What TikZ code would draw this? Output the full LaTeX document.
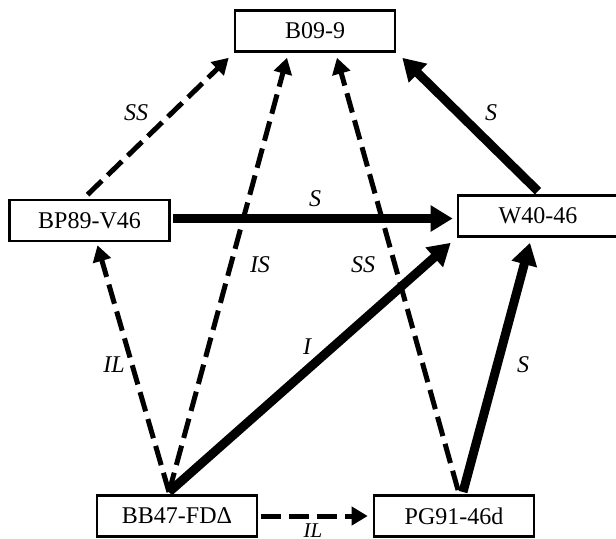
\documentclass[tikz,border=0pt]{standalone}
\usepackage{fontspec}
\setmainfont{Liberation Serif}
\usetikzlibrary{arrows.meta,calc}

\tikzset{
	strain/.style={draw, line width=1.3pt, minimum width=80pt, minimum height=20.5pt, inner sep=0pt, font=\fontsize{12}{14}\selectfont},
	strong/.style={line width=4.5pt, -{Triangle[length=11pt,width=12.5pt]}},
	weak/.style={line width=2.5pt, dash pattern=on 10pt off 4pt, -{Triangle[length=8pt,width=9pt]}},
	lbl/.style={font=\fontsize{12}{14}\selectfont\itshape, inner sep=0pt}
}

\begin{document}
\begin{tikzpicture}[x=0.5pt, y=-0.5pt]
		\useasboundingbox (0,0) rectangle (616,538);
		\clip (0,0) rectangle (616,538);
		\node[strain] (b09) at (315,31) {B09-9};
		\node[strain] (bp) at (89.5,220.5) {BP89-V46};
		\node[strain] (w40) at (538,216) {W40-46};
		\node[strain] (bb) at (177,516) {BB47-FDΔ};
		\node[strain] (pg) at (454,516) {PG91-46d};
		\coordinate (bbtop) at (169,492);
		\coordinate (pgl) at (458,490);
		\coordinate (pgr) at (463,492);
		\draw[weak] ($(bp.north)+(-2,-4)$) -- ($(b09.south west)+(-5,5)$);
		\draw[strong] ($(w40.north)+(0,-3)$) -- ($(b09.south east)+(6,5)$);
		\draw[strong] ($(bp.east)+(2,-2)$) -- ($(bp.east -| w40.west)+(-4,-2)$);
		\draw[weak] (bbtop) -- ($(b09.south)+(-28,5)$);
		\draw[weak] (pgl) -- ($(b09.south)+(22,5)$);
		\draw[weak] (bbtop) -- ($(bp.south)+(8,3)$);
		\draw[strong] (bbtop) -- ($(w40.south west)+(-6,5)$);
		\draw[strong] (pgr) -- ($(w40.south)+(-8,5)$);
		\draw[weak] ($(bb.east)+(3,0)$) -- ($(pg.west)+(-5,0)$);
		\node[lbl] (l1) at (136,113) {SS};
		\node[lbl] (l2) at (491,113) {S};
		\node[lbl] (l3) at (315,199) {S};
		\node[lbl] (l4) at (260,265) {IS};
		\node[lbl] (l5) at (363,265) {SS};
		\node[lbl] (l6) at (307,347) {I};
		\node[lbl] (l7) at (114,365) {IL};
		\node[lbl] (l8) at (523,365) {S};
		\node[lbl, font=\fontsize{10.5}{12}\selectfont\itshape] (l9) at (313,530.5) {IL};
	\end{tikzpicture}
\end{document}
